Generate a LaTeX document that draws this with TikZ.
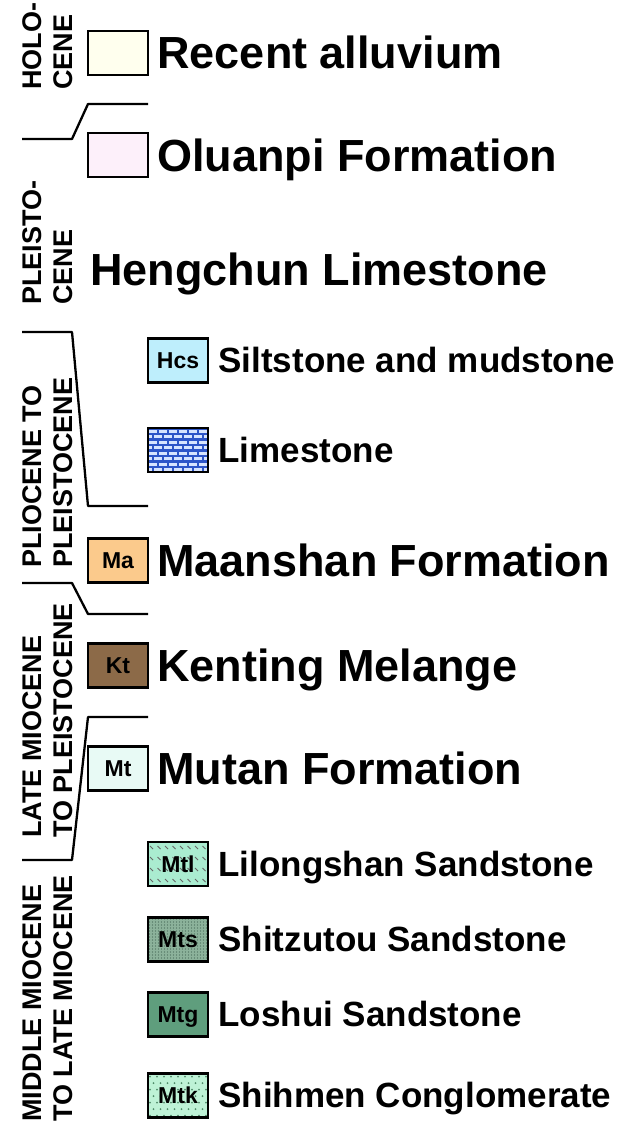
\documentclass[tikz,border=0pt]{standalone}
\usepackage{fontspec}
\setmainfont{Liberation Sans}
\usetikzlibrary{positioning}

\definecolor{recentFill}{RGB}{255,255,238}
\definecolor{oluanpiFill}{RGB}{253,240,250}
\definecolor{hcsFill}{RGB}{190,238,252}
\definecolor{limeBlue}{RGB}{45,85,200}
\definecolor{limeBrick}{RGB}{215,228,255}
\definecolor{maFill}{RGB}{251,202,140}
\definecolor{ktFill}{RGB}{140,106,72}
\definecolor{mtFill}{RGB}{232,250,245}
\definecolor{mtlFill}{RGB}{170,236,208}
\definecolor{mtsFill}{RGB}{140,178,155}
\definecolor{mtsDot}{RGB}{70,105,88}
\definecolor{mtgFill}{RGB}{95,158,125}
\definecolor{mtkFill}{RGB}{190,242,214}
\definecolor{mtkDot}{RGB}{80,140,105}

\begin{document}
\begin{tikzpicture}[
  x=1pt, y=-1pt,
  unit/.style={draw=black, line width=2.5pt, minimum width=60pt, minimum height=44pt,
    inner sep=0pt, text height=16pt, text depth=0pt,
    font=\bfseries\fontsize{23}{23}\selectfont},
  bigname/.style={font=\bfseries\fontsize{45}{45}\selectfont, inner sep=0pt,
    text height=32pt, text depth=0pt, anchor=west},
  smallname/.style={font=\bfseries\fontsize{35}{35}\selectfont, inner sep=0pt,
    text height=24.5pt, text depth=0pt, anchor=west},
  epoch/.style={font=\bfseries\fontsize{27}{31}\selectfont, rotate=90, align=left,
    inner sep=0pt, anchor=west},
  bound/.style={line width=2.3pt, line join=round},
  bricks/.style={path picture={
    \foreach \r in {0,...,7}{\foreach \c in {-1,...,6}{
      \pgfmathsetmacro{\bx}{\c*10+mod(\r,2)*5+1}
      \pgfmathsetmacro{\by}{-(\r*5.5+1.8)}
      \fill[limeBrick] ([xshift=\bx pt, yshift=\by pt]path picture bounding box.north west)
        rectangle ++(7.5pt,-3pt);
    }}}},
  ticks/.style={path picture={
    \foreach \r in {0,...,3}{\foreach \c in {0,...,7}{
      \pgfmathsetmacro{\bx}{\c*7.5+2}
      \pgfmathsetmacro{\by}{-(\r*11+4)}
      \draw[black!60, line width=0.8pt]
        ([xshift=\bx pt, yshift=\by pt]path picture bounding box.north west) -- ++(3pt,-3pt);
    }}}},
  finedots/.style={path picture={
    \foreach \i in {0,...,20}{\foreach \j in {0,...,15}{
      \pgfmathsetmacro{\bx}{\i*3+1.5}
      \pgfmathsetmacro{\by}{-(\j*3+1.5)}
      \fill[mtsDot] ([xshift=\bx pt, yshift=\by pt]path picture bounding box.north west)
        circle (0.65pt);
    }}}},
  pebbles/.style={path picture={
    \foreach \r in {0,...,6}{\foreach \c in {0,...,9}{
      \pgfmathsetmacro{\bx}{\c*7+mod(\r,2)*3.5+2}
      \pgfmathsetmacro{\by}{-(\r*6.5+3)}
      \fill[mtkDot] ([xshift=\bx pt, yshift=\by pt]path picture bounding box.north west)
        circle (1pt);
    }}}}
]
  \useasboundingbox (0,0) rectangle (638,1124);

  % epoch labels
  \node[epoch] (holocene) at (48,90) {HOLO-\\CENE};
  \node[epoch] (pleistocene) at (48,305) {PLEISTO-\\CENE};
  \node[epoch] (plioPleisto) at (48,568) {PLIOCENE TO\\PLEISTOCENE};
  \node[epoch] (lateMio) at (48,838) {LATE MIOCENE\\TO PLEISTOCENE};
  \node[epoch] (midMio) at (48,1122) {MIDDLE MIOCENE\\TO LATE MIOCENE};

  % boundaries
  \draw[bound] (22,139) -- (72,139) -- (88,104) -- (148,104);
  \draw[bound] (22,332) -- (72,332) -- (88,506) -- (148,506);
  \draw[bound] (22,583) -- (72,583) -- (88,614) -- (148,614);
  \draw[bound] (22,860) -- (72,860) -- (88,717) -- (148,717);

  % formations
  \node[unit, fill=recentFill] (recentBox) at (118,53) {};
  \node[bigname, right=8pt of recentBox] (recentName) {Recent alluvium};

  \node[unit, fill=oluanpiFill] (oluanpiBox) at (118,155) {};
  \node[bigname, right=8pt of oluanpiBox] (oluanpiName) {Oluanpi Formation};

  \node[bigname] (hengchunName) at (90,269) {Hengchun Limestone};

  \node[unit, fill=hcsFill] (hcsBox) at (178,360.5) {Hcs};
  \node[smallname, right=9pt of hcsBox] (hcsName) {Siltstone and mudstone};

  \node[unit, fill=limeBlue, bricks] (limeBox) at (178,450) {};
  \node[smallname, right=9pt of limeBox] (limeName) {Limestone};

  \node[unit, fill=maFill] (maBox) at (118,560.5) {Ma};
  \node[bigname, right=8pt of maBox] (maName) {Maanshan Formation};

  \node[unit, fill=ktFill] (ktBox) at (118,665.5) {Kt};
  \node[bigname, right=8pt of ktBox] (ktName) {Kenting Melange};

  \node[unit, fill=mtFill] (mtBox) at (118,768.5) {Mt};
  \node[bigname, right=8pt of mtBox] (mtName) {Mutan Formation};

  \node[unit, fill=mtlFill, ticks] (mtlBox) at (178,864) {Mtl};
  \node[smallname, right=9pt of mtlBox] (mtlName) {Lilongshan Sandstone};

  \node[unit, fill=mtsFill, finedots] (mtsBox) at (178,939.5) {Mts};
  \node[smallname, right=9pt of mtsBox] (mtsName) {Shitzutou Sandstone};

  \node[unit, fill=mtgFill] (mtgBox) at (178,1014.5) {Mtg};
  \node[smallname, right=9pt of mtgBox] (mtgName) {Loshui Sandstone};

  \node[unit, fill=mtkFill, pebbles] (mtkBox) at (178,1095.5) {Mtk};
  \node[smallname, right=9pt of mtkBox] (mtkName) {Shihmen Conglomerate};
\end{tikzpicture}
\end{document}
